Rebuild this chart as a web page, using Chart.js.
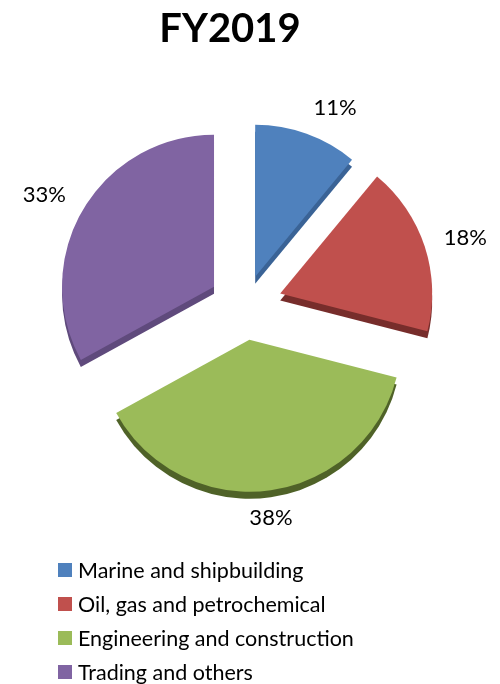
<!DOCTYPE html>
<html>
<head>
<meta charset="utf-8">
<script src="https://cdn.jsdelivr.net/npm/chart.js@4.4.1/dist/chart.umd.min.js"></script>
<style>
  html, body { margin: 0; padding: 0; background: #fff; }
  #wrap { width: 500px; height: 684px; }
</style>
</head>
<body>
<div id="wrap"><canvas id="fy-pie"></canvas></div>
<script>
const segments = ['Marine and shipbuilding', 'Oil, gas and petrochemical', 'Engineering and construction', 'Trading and others'];
const shares = [11, 18, 38, 33];
const topColors = ['#4f81bd', '#c0504d', '#9bbb59', '#8064a2'];
const sideColors = ['#3a6396', '#772d2b', '#4f6228', '#5f4a7c'];
const explode = [30, 37, 35, 36];   // px each wedge is pulled out

const depth = 7;
const FONT = 'Lato, Carlito, Calibri, sans-serif';

function bisector(arc) {
  return (arc.startAngle + arc.endAngle) / 2;
}

// exploded wedges with a thin dark wall underneath
const pie3d = {
  id: 'pie3d',
  beforeDatasetsDraw(chart) {
    const ctx = chart.ctx;
    const arcs = chart.getDatasetMeta(0).data;
    const wedge = (arc, i, lift) => {
      const a = bisector(arc);
      const cx = arc.x + Math.cos(a) * explode[i];
      const cy = arc.y + Math.sin(a) * explode[i] + lift;
      ctx.beginPath();
      ctx.moveTo(cx, cy);
      ctx.arc(cx, cy, arc.outerRadius, arc.startAngle, arc.endAngle);
      ctx.closePath();
    };
    ctx.save();
    arcs.forEach((arc, i) => {
      wedge(arc, i, depth);
      ctx.fillStyle = sideColors[i];
      ctx.fill();
    });
    arcs.forEach((arc, i) => {
      wedge(arc, i, 0);
      ctx.fillStyle = arc.options.backgroundColor;
      ctx.fill();
    });
    ctx.restore();
    return false;
  },
  afterDraw(chart) {
    const ctx = chart.ctx;
    const arcs = chart.getDatasetMeta(0).data;
    ctx.save();

    // title
    ctx.fillStyle = '#000';
    ctx.font = 'bold 40px ' + FONT;
    ctx.textAlign = 'center';
    ctx.textBaseline = 'middle';
    ctx.fillText('FY2019', 230, 29);

    // percentage labels just outside each wedge
    ctx.font = '22px ' + FONT;
    arcs.forEach((arc, i) => {
      const a = bisector(arc);
      const ux = Math.cos(a), uy = Math.sin(a);
      const r = explode[i] + arc.outerRadius + 20;
      const x = arc.x + ux * r;
      const y = arc.y + uy * r + uy * 8;
      ctx.textAlign = ux > 0.2 ? 'left' : (ux < -0.2 ? 'right' : 'center');
      ctx.fillText(shares[i] + '%', x, y);
    });

    // legend, one entry per row
    ctx.font = '21.5px ' + FONT;
    ctx.textAlign = 'left';
    segments.forEach((name, i) => {
      const y = 570 + i * 34;
      ctx.fillStyle = topColors[i];
      ctx.fillRect(58, y - 7, 14, 14);
      ctx.fillStyle = '#000';
      ctx.fillText(name, 78, y + 1);
    });
    ctx.restore();
  }
};

new Chart(document.getElementById('fy-pie'), {
  type: 'pie',
  data: {
    labels: segments,
    datasets: [{
      data: shares,
      backgroundColor: topColors,
      borderWidth: 0
    }]
  },
  options: {
    responsive: true,
    maintainAspectRatio: false,
    animation: false,
    radius: 152,
    layout: { padding: { top: 72, left: 0, right: 10, bottom: 146 } },
    plugins: {
      legend: { display: false },
      title: { display: false },
      tooltip: { enabled: false }
    }
  },
  plugins: [pie3d]
});
</script>
</body>
</html>
